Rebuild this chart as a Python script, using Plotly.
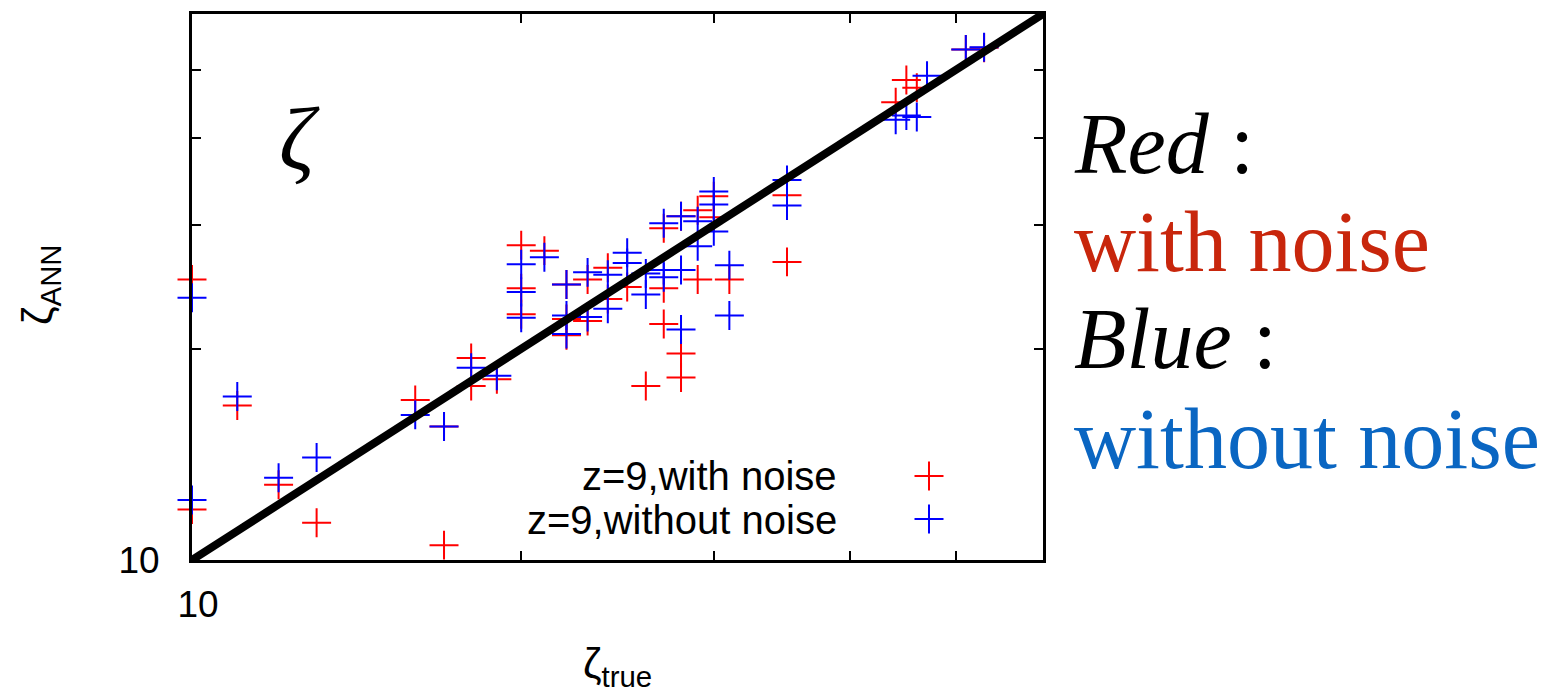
import plotly.graph_objects as go
import math

# zeta_true (x) and zeta_ANN (y) values
red_x = [10, 10, 11, 12, 13, 16, 17, 17, 18, 18, 19, 20, 20, 20, 21, 22, 22, 22, 23, 23,
         24, 24, 25, 26, 27, 27, 27, 28, 28, 28, 29, 29, 30, 30, 31, 35, 35, 44, 45, 46, 51, 53]
red_y = [25.1, 11.8, 16.6, 12.8, 11.3, 16.9, 15.5, 10.5, 19.4, 17.7, 18.1, 28.1, 24.4, 22.4, 27.6,
         24.7, 22.05, 20.9, 25.1, 21.9, 26.1, 23.55, 24.5, 17.7, 29.7, 24.4, 21.7, 30.9, 19.7, 18.2,
         31.5, 25.1, 33.0, 30.8, 25.1, 33.1, 26.6, 44.9, 48.3, 47.1, 53.4, 53.7]

blue_x = [10, 10, 11, 12, 13, 16, 17, 18, 19, 20, 20, 20, 21, 22, 22, 22, 23, 23, 24, 24,
          25, 25, 26, 26, 27, 27, 27, 28, 28, 28, 29, 29, 30, 30, 30, 31, 31, 35, 35, 44, 45, 46, 47, 51, 53]
blue_y = [23.65, 12.18, 17.1, 13.1, 14.0, 16.1, 15.5, 18.8, 18.3, 26.4, 24.1, 22.15, 27.0, 24.7, 22.3,
          21.0, 25.7, 22.2, 25.5, 22.8, 27.4, 26.5, 25.6, 23.9, 30.2, 25.9, 25.3, 30.9, 25.9, 21.3,
          30.4, 28.0, 33.5, 32.1, 29.4, 26.3, 22.3, 34.8, 32.0, 42.4, 43.0, 42.8, 49.0, 53.4, 53.8]

diag = [10, 60]
axis_range = [10, 60]
tick_vals = [10, 20, 30, 40, 50]
tick_text = ["10", "", "", "", ""]

RED = "#ff0000"
BLUE = "#0000ff"
W, H = 1548, 697
L, R, T, B = 192, 505, 14, 137
PW, PH = W - L - R, H - T - B

def px(xp):
    return (xp - L) / PW

def py(yp):
    return (H - B - yp) / PH

fig = go.Figure()
fig.add_trace(go.Scatter(x=red_x, y=red_y, mode="markers", name="z=9,with noise",
                         cliponaxis=False,
                         marker=dict(symbol="cross-thin", size=20.7, color=RED,
                                     line=dict(color=RED, width=2))))
fig.add_trace(go.Scatter(x=blue_x, y=blue_y, mode="markers", name="z=9,without noise",
                         cliponaxis=False,
                         marker=dict(symbol="cross-thin", size=20.7, color=BLUE,
                                     line=dict(color=BLUE, width=2))))
fig.add_trace(go.Scatter(x=diag, y=diag, mode="lines", line=dict(color="black", width=8),
                         showlegend=False, cliponaxis=True))

rng = [math.log10(axis_range[0]), math.log10(axis_range[1])]
axis_common = dict(type="log", range=rng, showgrid=False, zeroline=False,
                   showline=True, linecolor="black", linewidth=3, mirror="ticks",
                   ticks="inside", ticklen=9, tickwidth=2, tickcolor="black",
                   tickvals=tick_vals, ticktext=tick_text,
                   tickfont=dict(family="Liberation Sans", size=37, color="black"))
fig.update_xaxes(**axis_common, ticklabelstandoff=10, ticklabelshift=6)
fig.update_yaxes(**axis_common, ticklabelstandoff=22)

ann = []
# axis titles
ann.append(dict(xref="paper", yref="paper", x=px(617), y=py(666), xanchor="center", yanchor="middle",
                text="ζ<sub>true</sub>", showarrow=False,
                font=dict(family="Liberation Sans", size=42, color="black")))
ann.append(dict(xref="paper", yref="paper", x=px(40), y=py(285), xanchor="center", yanchor="middle",
                text="ζ<sub>ANN</sub>", textangle=-90, showarrow=False,
                font=dict(family="Liberation Sans", size=42, color="black")))
# zeta label in plot
ann.append(dict(xref="paper", yref="paper", x=px(299), y=py(140), xanchor="center", yanchor="middle",
                text="<i>ζ</i>", showarrow=False,
                font=dict(family="Liberation Serif", size=88, color="black")))
# legend texts
ann.append(dict(xref="paper", yref="paper", x=px(839), y=py(476), xanchor="right", yanchor="middle",
                text="z=9,with noise", showarrow=False,
                font=dict(family="Liberation Sans", size=40, color="black")))
ann.append(dict(xref="paper", yref="paper", x=px(839), y=py(520), xanchor="right", yanchor="middle",
                text="z=9,without noise", showarrow=False,
                font=dict(family="Liberation Sans", size=40, color="black")))
# right side notes
notes = [("<i>Red</i> :", "black", 144), ("with noise", "#c8260c", 242),
         ("<i>Blue</i> :", "black", 339), ("without noise", "#0a66c2", 439)]
for txt, col, yc in notes:
    ann.append(dict(xref="paper", yref="paper", x=px(1072), y=py(yc), xanchor="left", yanchor="middle",
                    text=txt, showarrow=False,
                    font=dict(family="Liberation Serif", size=86, color=col)))

shapes = []
for col, yc in [(RED, 476), (BLUE, 519)]:
    cx = 929
    shapes.append(dict(type="line", xref="paper", yref="paper", x0=px(cx - 14.5), x1=px(cx + 14.5),
                       y0=py(yc), y1=py(yc), line=dict(color=col, width=2)))
    shapes.append(dict(type="line", xref="paper", yref="paper", x0=px(cx), x1=px(cx),
                       y0=py(yc - 14.5), y1=py(yc + 14.5), line=dict(color=col, width=2)))

fig.update_layout(width=W, height=H, margin=dict(l=L, r=R, t=T, b=B),
                  plot_bgcolor="white", paper_bgcolor="white", showlegend=False,
                  annotations=ann, shapes=shapes)
fig.write_html("out.html")
